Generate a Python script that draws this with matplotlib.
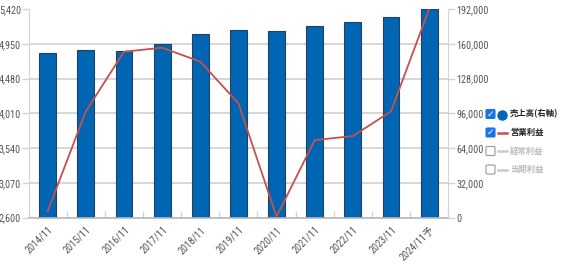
import matplotlib

matplotlib.use("Agg")
import matplotlib.pyplot as plt
import numpy as np
from matplotlib import font_manager
from matplotlib.patches import FancyBboxPatch
from matplotlib.lines import Line2D

years = ["2014/11", "2015/11", "2016/11", "2017/11", "2018/11", "2019/11",
         "2020/11", "2021/11", "2022/11", "2023/11", "2024/11予"]
sales = [151300, 154000, 153100, 159600, 168700, 172400,
         171500, 176400, 180100, 184700, 192000]
op_profit = [2685, 4035, 4843, 4897, 4709, 4145,
             2613, 3648, 3702, 4036, 5420]
left_ticks = [2600, 3070, 3540, 4010, 4480, 4950, 5420]
right_ticks = [0, 32000, 64000, 96000, 128000, 160000, 192000]

# pick a narrow font for the tick numbers if one is installed
installed = {f.name for f in font_manager.fontManager.ttflist}
narrow = None
for cand in ["Liberation Sans Narrow", "DejaVu Sans Condensed", "Roboto Condensed"]:
    if cand in installed:
        narrow = cand
        break
if narrow is None:
    narrow = "Noto Sans"
    tick_font = 6.3
else:
    tick_font = 7.3

plt.rcParams["font.family"] = [narrow, "Noto Sans CJK JP", "DejaVu Sans"]

grid_c = "#d4d4d4"
text_c = "#555555"

fig = plt.figure(figsize=(5.64, 2.74), dpi=100)
ax = fig.add_axes([0.0507, 0.206, 0.744, 0.761])
x = np.arange(len(years))

# bars on the right axis (sales)
ax.bar(x, sales, width=0.44, color="#0066b3", edgecolor="#23405e", linewidth=0.8, zorder=2)
ax.set_ylim(right_ticks[0], right_ticks[-1])
ax.set_yticks(right_ticks)
ax.set_yticklabels([f"{v:,}" for v in right_ticks])
ax.set_xlim(-0.5, len(years) - 0.5)
ax.set_axisbelow(True)
ax.grid(axis="y", color=grid_c, linewidth=1.3)
ax.get_ygridlines()[-1].set_visible(False)
ax.set_xticks(x)
ax.set_xticklabels(years, rotation=45, ha="right", rotation_mode="anchor")
ax.set_xticks(np.arange(len(years) + 1) - 0.5, minor=True)
ax.tick_params(axis="x", which="major", length=0, labelsize=tick_font, colors=text_c, pad=5)
ax.tick_params(axis="x", which="minor", length=5, direction="in", color=grid_c, width=1.0)
ax.spines["top"].set_visible(False)
ax.spines["left"].set_color(grid_c)
ax.spines["right"].set_color(grid_c)
ax.spines["bottom"].set_color("#b8b8b8")
ax.spines["bottom"].set_linewidth(1.2)

# line on the left axis (operating profit)
ax2 = ax.twinx()
ax2.plot(x, op_profit, color="#c5504c", linewidth=1.3, zorder=3)
ax2.set_ylim(left_ticks[0], left_ticks[-1])
ax2.set_yticks(left_ticks)
ax2.set_yticklabels([f"{v:,}" for v in left_ticks])
ax2.yaxis.tick_left()
ax2.tick_params(axis="y", length=5, color=grid_c, width=1.0, labelsize=tick_font, labelcolor=text_c, pad=0.5)
for s in ["top", "right", "bottom", "left"]:
    ax2.spines[s].set_visible(False)

# twinx moves the original ticks to the left, put them back on the right
ax.yaxis.tick_right()
ax.tick_params(axis="y", length=5, color=grid_c, width=1.0, labelsize=tick_font, labelcolor=text_c, pad=1)

# legend with checkboxes
legend_items = [
    ("売上高(右軸)", True, "circle", "#0066b3", "#222222"),
    ("営業利益", True, "line", "#c5504c", "#222222"),
    ("経常利益", False, "line", "#cccccc", "#bbbbbb"),
    ("当期利益", False, "line", "#cccccc", "#bbbbbb"),
]
W, H = 564, 274
for i, (label, checked, kind, mc, tc) in enumerate(legend_items):
    yc = 114 + i * 18.5
    bx, bw = 486, 9
    box = FancyBboxPatch((bx / W, (H - yc - bw / 2) / H), bw / W, bw / H,
                         boxstyle="round,pad=0,rounding_size=0.003",
                         transform=fig.transFigure,
                         facecolor="#1a73e8" if checked else "white",
                         edgecolor="#1a73e8" if checked else "#999999", linewidth=0.8)
    fig.patches.append(box)
    if checked:
        fig.text((bx + bw / 2) / W, (H - yc) / H, "✓", color="white", fontsize=6.5,
                 fontweight="bold", ha="center", va="center", family="DejaVu Sans")
    if kind == "circle":
        fig.add_artist(Line2D([502 / W], [(H - yc - 1) / H], marker="o", markersize=6.5,
                              color=mc, transform=fig.transFigure))
    else:
        fig.add_artist(Line2D([497.5 / W, 506.5 / W], [(H - yc) / H] * 2, color=mc,
                              linewidth=1.8, transform=fig.transFigure))
    fig.text(510 / W, (H - yc) / H, label, color=tc, fontsize=6, fontweight="bold",
             ha="left", va="center", family=["Noto Sans CJK JP", "DejaVu Sans"])

fig.savefig("out.png", dpi=100)
plt.close(fig)
